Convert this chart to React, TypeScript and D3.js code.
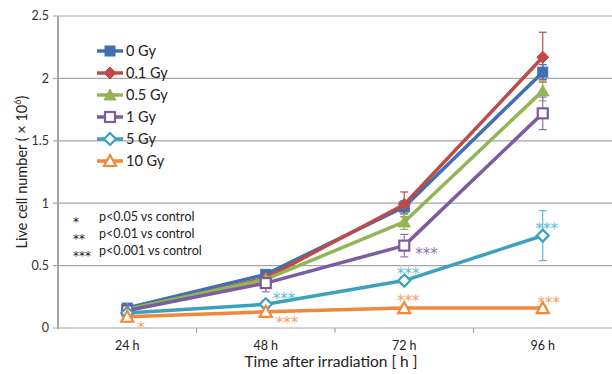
import React from "react";
import * as d3 from "d3";

const times = ["24 h", "48 h", "72 h", "96 h"];
const yTicks = [0, 0.5, 1, 1.5, 2, 2.5];

const seriesNames = ["0 Gy", "0.1 Gy", "0.5 Gy", "1 Gy", "5 Gy", "10 Gy"];
const gy0 = [0.16, 0.43, 0.97, 2.05];
const gy01 = [0.14, 0.4, 0.99, 2.17];
const gy05 = [0.15, 0.39, 0.85, 1.9];
const gy1 = [0.14, 0.36, 0.66, 1.72];
const gy5 = [0.12, 0.19, 0.38, 0.74];
const gy10 = [0.09, 0.13, 0.16, 0.16];

const err0 = [0.02, 0.03, 0.05, 0.06];
const err01 = [0.02, 0.04, 0.1, 0.2];
const err05 = [0.02, 0.03, 0.06, 0.08];
const err1 = [0.02, 0.07, 0.09, 0.13];
const err5 = [0.01, 0.03, 0.03, 0.2];
const err10 = [0.01, 0.01, 0.01, 0.01];

// significance marks: series index, time index, label, where it sits
const marks = [
  { s: 5, t: 0, label: "*", at: "downRight" },
  { s: 4, t: 1, label: "***", at: "upRight" },
  { s: 5, t: 1, label: "***", at: "downRight" },
  { s: 3, t: 2, label: "***", at: "right" },
  { s: 4, t: 2, label: "***", at: "above" },
  { s: 5, t: 2, label: "***", at: "above" },
  { s: 4, t: 3, label: "***", at: "above" },
  { s: 5, t: 3, label: "***", at: "aboveRight" },
];

const sigNotes = [
  ["*", "p<0.05 vs control"],
  ["**", "p<0.01 vs control"],
  ["***", "p<0.001 vs control"],
];

const colors = ["#3e70b2", "#be4b48", "#93b555", "#7a5c9f", "#3aa2bd", "#f0893b"];
const markColors = ["#3e70b2", "#be4b48", "#93b555", "#8e74b2", "#5bbcd8", "#f5a066"];
const shapes = ["square", "diamond", "triangle", "square", "diamond", "triangle"];
const filled = [true, true, true, false, false, false];

const W = 612;
const H = 374;
const m = { left: 58, right: 0, top: 16, bottom: 46 };
const font = "Lato, 'Open Sans', sans-serif";
const starFont = "'DejaVu Sans', sans-serif";

function Marker({ shape, fill, color, x, y }) {
  const f = fill ? color : "#fff";
  const sw = fill ? 1 : 2.2;
  if (shape === "square")
    return <rect x={x - 5} y={y - 5} width={10} height={10} fill={f} stroke={color} strokeWidth={sw} />;
  if (shape === "diamond")
    return (
      <path d={`M${x},${y - 6}L${x + 6},${y}L${x},${y + 6}L${x - 6},${y}Z`} fill={f} stroke={color} strokeWidth={sw} />
    );
  return (
    <path d={`M${x},${y - 6}L${x + 6},${y + 5}L${x - 6},${y + 5}Z`} fill={f} stroke={color} strokeWidth={sw} />
  );
}

export default function App() {
  const data = [gy0, gy01, gy05, gy1, gy5, gy10];
  const errs = [err0, err01, err05, err1, err5, err10];

  const x = d3.scaleBand().domain(times).range([m.left, W - m.right]);
  const y = d3.scaleLinear().domain([0, 2.5]).range([H - m.bottom, m.top]);
  const cx = (i) => x(times[i]) + x.bandwidth() / 2;
  const line = d3
    .line()
    .x((d, i) => cx(i))
    .y((d) => y(d));

  // offsets of the mark's visual centre line from its point; anchor
  const offsets = {
    above: [4, -11, "middle"],
    aboveRight: [6, -9, "middle"],
    right: [11, 4, "start"],
    upRight: [7, -9, "start"],
    downRight: [10, 7, "start"],
  };

  return (
    <svg width={W} height={H} style={{ position: "absolute", left: 0, top: 0 }} fontFamily={font}>
      {/* grid */}
      {yTicks.map((t) => (
        <g key={t}>
          <line x1={m.left - 5} x2={W} y1={y(t)} y2={y(t)} stroke="#a6a6a6" strokeWidth={1.2} />
          <text x={m.left - 9} y={y(t)} dy="0.35em" textAnchor="end" fontSize={12.5} fill="#333">
            {t}
          </text>
        </g>
      ))}
      <line x1={m.left} x2={m.left} y1={y(2.5)} y2={y(0) + 1} stroke="#a6a6a6" strokeWidth={2} />
      {times.map((t, i) => (
        <g key={t}>
          {i > 0 && (
            <line x1={x(t)} x2={x(t)} y1={y(0)} y2={y(0) + 5} stroke="#a6a6a6" strokeWidth={1.2} />
          )}
          <text x={cx(i)} y={y(0) + 22} textAnchor="middle" fontSize={12.5} fill="#222">
            {t}
          </text>
        </g>
      ))}
      <text x={331} y={367} textAnchor="middle" fontSize={15.5} fill="#222">
        Time after irradiation [ h ]
      </text>
      <text transform={`translate(27,${172}) rotate(-90)`} textAnchor="middle" fontSize={14.5} fill="#222">
        Live cell number ( × 10<tspan dy={-6} fontSize={9}>6</tspan>
        <tspan dy={6}>)</tspan>
      </text>

      {/* significance note box */}
      {sigNotes.map(([s, txt], i) => (
        <g key={s} fill="#222">
          <text x={73} y={226 + i * 17} fontFamily={starFont} fontSize={12}>
            {s}
          </text>
          <text x={99} y={221 + i * 17} fontSize={12.5}>
            {txt}
          </text>
        </g>
      ))}

      {/* error bars */}
      {data.map((vals, s) =>
        vals.map((v, i) => {
          const e = errs[s][i];
          return (
            <g key={`e${s}${i}`} stroke={markColors[s]} strokeWidth={1.2}>
              <line x1={cx(i)} x2={cx(i)} y1={y(v + e)} y2={y(v - e)} />
              <line x1={cx(i) - 4} x2={cx(i) + 4} y1={y(v + e)} y2={y(v + e)} />
              <line x1={cx(i) - 4} x2={cx(i) + 4} y1={y(v - e)} y2={y(v - e)} />
            </g>
          );
        })
      )}

      {/* lines */}
      {data.map((vals, s) => (
        <g key={`l${s}`}>
          <path d={line(vals)} fill="none" stroke={colors[s]} strokeWidth={3.5} strokeLinejoin="round" />
          {vals.map((v, i) => (
            <Marker key={i} shape={shapes[s]} fill={filled[s]} color={colors[s]} x={cx(i)} y={y(v)} />
          ))}
        </g>
      ))}

      {/* significance marks */}
      {marks.map((mk, k) => {
        const [dx, dy, anchor] = offsets[mk.at];
        return (
          <text
            key={k}
            x={cx(mk.t) + dx}
            y={y(data[mk.s][mk.t]) + dy + 9}
            textAnchor={anchor}
            fontFamily={starFont}
            fontSize={15}
            fill={markColors[mk.s]}
          >
            {mk.label}
          </text>
        );
      })}

      {/* legend */}
      {seriesNames.map((n, s) => {
        const ly = 51 + s * 22;
        return (
          <g key={n}>
            <line x1={97} x2={123} y1={ly} y2={ly} stroke={colors[s]} strokeWidth={3.5} />
            <Marker shape={shapes[s]} fill={filled[s]} color={colors[s]} x={110} y={ly} />
            <text x={126} y={ly} dy="0.36em" fontSize={14.5} fill="#222">
              {n}
            </text>
          </g>
        );
      })}
    </svg>
  );
}
